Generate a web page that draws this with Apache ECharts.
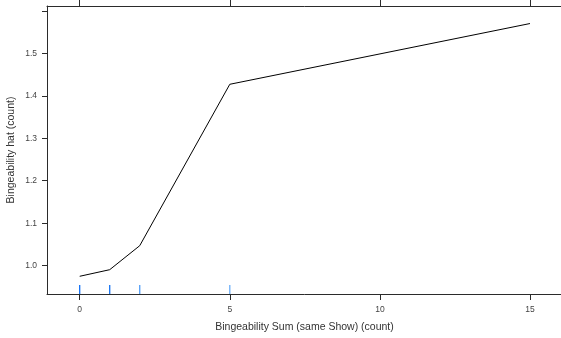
<!DOCTYPE html>
<html>
<head>
<meta charset="utf-8">
<script src="https://cdn.jsdelivr.net/npm/echarts@6/dist/echarts.min.js"></script>
<style>
  html, body { margin: 0; padding: 0; background: #fff; }
  #chart { width: 561px; height: 338px; }
</style>
</head>
<body>
<div id="chart"></div>
<script>
// Effect of summed bingeability on the fitted value
const sumValues = [0, 1, 2, 5, 15];
const hatValues = [0.975, 0.9905, 1.047, 1.427, 1.570];
// Observed values shown as a rug along the bottom
const rugValues = [0, 1, 2, 5];
const rugShades = ['#0f6ff5', '#1170f2', '#4f9cf7', '#6aaef8'];
// Tick positions and labels
const xTickValues = [0, 5, 10, 15];
const yTickValues = [1.0, 1.1, 1.2, 1.3, 1.4, 1.5, 1.6];
const yLabelValues = [1.0, 1.1, 1.2, 1.3, 1.4, 1.5];

const X_MIN = -1.089, X_MAX = 16.066;
const Y_MIN = 0.9333, Y_MAX = 1.6113;
const FONT = '"Liberation Sans", Arial, sans-serif';
const AXIS_COLOR = '#2b2b2b';

const chart = echarts.init(document.getElementById('chart'), null, { renderer: 'canvas' });

const baseX = {
  type: 'value',
  min: X_MIN,
  max: X_MAX,
  splitLine: { show: false },
  axisLine: { show: true, onZero: false, lineStyle: { color: AXIS_COLOR, width: 1 } },
  axisTick: { show: true, inside: false, length: 6, customValues: xTickValues, lineStyle: { color: AXIS_COLOR } }
};

chart.setOption({
  animation: false,
  backgroundColor: '#ffffff',
  grid: { left: 47, top: 6, width: 515, height: 288, containLabel: false, outerBoundsMode: 'none' },
  xAxis: [
    Object.assign({}, baseX, {
      position: 'bottom',
      name: 'Bingeability Sum (same Show) (count)',
      nameLocation: 'middle',
      nameGap: 28,
      nameMoveOverlap: false,
      nameTextStyle: { fontFamily: FONT, fontSize: 10.5, color: '#333' },
      axisLabel: {
        show: true, customValues: xTickValues, margin: 11,
        fontFamily: FONT, fontSize: 8.5, color: '#444',
        formatter: v => String(v)
      }
    }),
    Object.assign({}, baseX, {
      position: 'top',
      axisLabel: { show: false }
    })
  ],
  yAxis: {
    type: 'value',
    min: Y_MIN,
    max: Y_MAX,
    position: 'left',
    name: 'Bingeability hat (count)',
    nameLocation: 'middle',
    nameGap: 30,
    nameMoveOverlap: false,
    nameRotate: 90,
    nameTextStyle: { fontFamily: FONT, fontSize: 10.5, color: '#333' },
    splitLine: { show: false },
    axisLine: { show: true, onZero: false, lineStyle: { color: AXIS_COLOR, width: 1 } },
    axisTick: { show: true, inside: false, length: 5, customValues: yTickValues, lineStyle: { color: AXIS_COLOR } },
    axisLabel: {
      show: true, customValues: yLabelValues, margin: 10,
      fontFamily: FONT, fontSize: 8.5, color: '#444',
      formatter: v => v.toFixed(1)
    }
  },
  series: [
    {
      type: 'line',
      data: sumValues.map((x, i) => [x, hatValues[i]]),
      showSymbol: false,
      symbol: 'none',
      lineStyle: { color: '#000', width: 1 },
      z: 3
    },
    {
      type: 'custom',
      data: rugValues.map(x => [x]),
      renderItem: function (params, api) {
        const p = api.coord([api.value(0), Y_MIN]);
        return {
          type: 'line',
          shape: { x1: p[0], y1: p[1], x2: p[0], y2: p[1] - 9 },
          style: { stroke: rugShades[params.dataIndex], lineWidth: 1.3 }
        };
      },
      z: 2
    }
  ]
});
</script>
</body>
</html>
